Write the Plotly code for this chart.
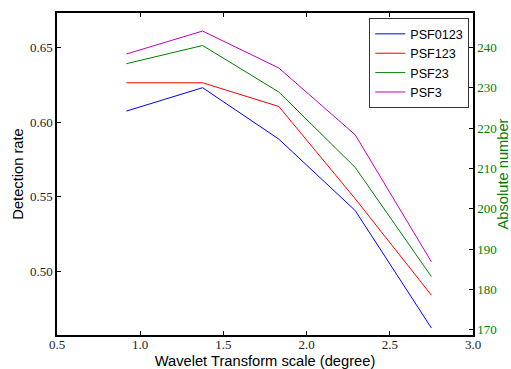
import plotly.graph_objects as go

scales = [0.917, 1.375, 1.833, 2.292, 2.75]
psf0123 = [0.6075, 0.6232, 0.5887, 0.5408, 0.4620]
psf123 = [0.6265, 0.6265, 0.6106, 0.5487, 0.4840]
psf23 = [0.6393, 0.6515, 0.6203, 0.5697, 0.4965]
psf3 = [0.6458, 0.6612, 0.6364, 0.5916, 0.5064]

series = [("PSF0123", psf0123, "#0000ff"),
          ("PSF123", psf123, "#ff0000"),
          ("PSF23", psf23, "#008000"),
          ("PSF3", psf3, "#bf00bf")]

fig = go.Figure()
for name, vals, col in series:
    fig.add_trace(go.Scatter(x=scales, y=vals, mode="lines", name=name,
                             line=dict(color=col, width=1)))
# invisible trace to activate the right axis
fig.add_trace(go.Scatter(x=[scales[0]], y=[200], yaxis="y2", mode="lines",
                         showlegend=False, hoverinfo="skip", opacity=0))

tickfont = dict(family="Liberation Serif", size=13, color="#222222")
titlefont = dict(family="Liberation Sans", size=14.7, color="black")
fig.update_layout(
    width=511, height=369,
    margin=dict(l=57, r=37.5, t=13.3, b=33.7),
    plot_bgcolor="white", paper_bgcolor="white",
    showlegend=True,
    legend=dict(x=0.991, y=0.984, xanchor="right", yanchor="top",
                bgcolor="white", bordercolor="#333333", borderwidth=1,
                font=dict(family="Liberation Sans", size=12.6, color="black")),
    xaxis=dict(range=[0.5, 3.0], tickvals=[0.5, 1.0, 1.5, 2.0, 2.5, 3.0],
               ticktext=["0.5", "1.0", "1.5", "2.0", "2.5", "3.0"],
               ticks="inside", ticklen=4, tickcolor="black", showgrid=False,
               zeroline=False, showline=True, linecolor="black", linewidth=1.5,
               mirror="ticks", tickfont=tickfont, automargin=False,
               ticklabelstandoff=-3,
               title=dict(text="Wavelet Transform scale (degree)", standoff=7,
                          font=titlefont)),
    yaxis=dict(range=[0.4573, 0.6733], tickvals=[0.50, 0.55, 0.60, 0.65],
               ticktext=["0.50", "0.55", "0.60", "0.65"],
               ticks="inside", ticklen=4, tickcolor="black", showgrid=False,
               zeroline=False, showline=True, linecolor="black", linewidth=1.5,
               tickfont=tickfont, automargin=False,
               title=dict(text="Detection rate", standoff=3, font=titlefont)),
    yaxis2=dict(range=[168.69, 248.53], overlaying="y", side="right",
                tickvals=[170, 180, 190, 200, 210, 220, 230, 240],
                ticks="inside", ticklen=4, tickcolor="black", showgrid=False,
                zeroline=False, showline=True, linecolor="black", linewidth=1.5,
                automargin=False,
                tickfont=dict(family="Liberation Serif", size=13, color="#008000"),
                title=dict(text="Absolute number", standoff=4,
                           font=dict(family="Liberation Sans", size=14.7, color="#008000"))),
)
fig.write_html("out.html")
